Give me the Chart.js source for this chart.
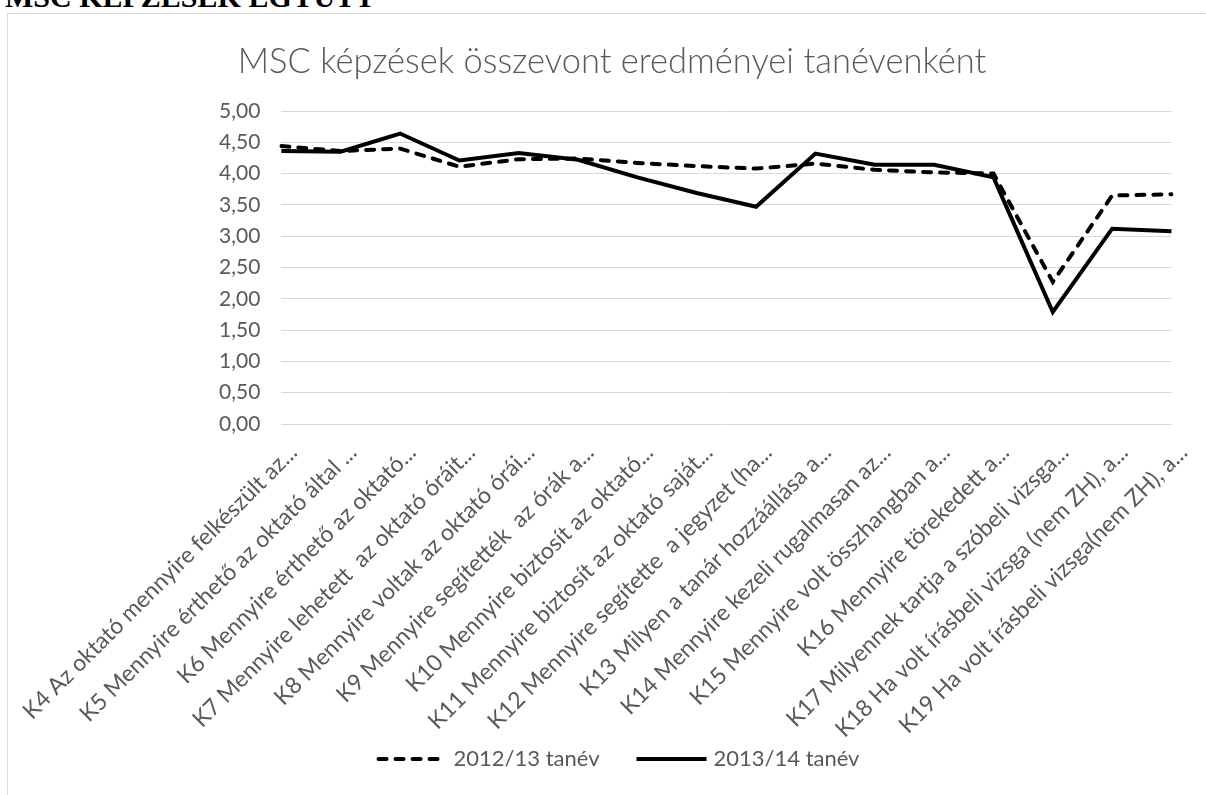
<!DOCTYPE html>
<html>
<head>
<meta charset="utf-8">
<script src="https://cdn.jsdelivr.net/npm/chart.js@4.4.1/dist/chart.umd.min.js"></script>
<style>
  html, body { margin: 0; padding: 0; background: #fff; overflow: hidden; }
  #wrap { position: relative; width: 1206px; height: 795px; overflow: hidden; }
  #header { position: absolute; left: 5px; top: -18px; font: bold 30px/30px "Liberation Serif", "Times New Roman", serif; color: #000; white-space: nowrap; }
  #frame { position: absolute; left: 7px; top: 13px; width: 1260px; height: 900px; border: 1px solid #d9d9d9; }
  canvas { position: absolute; left: 0; top: 0; }
</style>
</head>
<body>
<div id="wrap">
  <div id="header">MSC KÉPZÉSEK EGYÜTT</div>
  <div id="frame"></div>
  <canvas id="c" width="1206" height="795"></canvas>
</div>
<script>
const chartTitle = "MSC képzések összevont eredményei tanévenként";
const categories = [
  "K4 Az oktató mennyire felkészült az...",
  "K5 Mennyire érthető az oktató által ...",
  "K6 Mennyire érthető az oktató...",
  "K7 Mennyire lehetett  az oktató óráit...",
  "K8 Mennyire voltak az oktató órái...",
  "K9 Mennyire segítették  az órák a...",
  "K10 Mennyire biztosít az oktató...",
  "K11 Mennyire biztosít az oktató saját...",
  "K12 Mennyire segítette  a jegyzet (ha...",
  "K13 Milyen a tanár hozzáállása a...",
  "K14 Mennyire kezeli rugalmasan az...",
  "K15 Mennyire volt összhangban a...",
  "K16 Mennyire törekedett a...",
  "K17 Milyennek tartja a szóbeli vizsga...",
  "K18 Ha volt írásbeli vizsga (nem ZH), a...",
  "K19 Ha volt írásbeli vizsga(nem ZH), a..."
];
const seriesNames = ["2012/13 tanév", "2013/14 tanév"];
const values2012 = [4.44, 4.36, 4.40, 4.11, 4.23, 4.24, 4.17, 4.12, 4.08, 4.16, 4.06, 4.02, 4.00, 2.27, 3.65, 3.67];
const values2013 = [4.36, 4.35, 4.64, 4.21, 4.33, 4.22, 3.94, 3.69, 3.47, 4.32, 4.14, 4.14, 3.94, 1.79, 3.12, 3.08];
const yMin = 0, yMax = 5, yStep = 0.5;

const FONT = "Lato, 'Open Sans', sans-serif";
const GREY = "#595959";
const DASH = [8, 9];

const titlePlugin = {
  id: 'excelTitle',
  afterDraw(chart) {
    const ctx = chart.ctx;
    ctx.save();
    ctx.fillStyle = GREY;
    let size = 34;
    ctx.font = "300 " + size + "px " + FONT;
    const w = ctx.measureText(chartTitle).width;
    size = size * 748 / w;
    ctx.font = "300 " + size.toFixed(1) + "px " + FONT;
    ctx.textAlign = "center";
    ctx.textBaseline = "alphabetic";
    ctx.fillText(chartTitle, 612, 73);
    ctx.restore();
  }
};

const legendPlugin = {
  id: 'excelLegend',
  afterDraw(chart) {
    const ctx = chart.ctx;
    const ds = chart.data.datasets;
    ctx.save();
    ctx.font = "22px " + FONT;
    const lineW = 70, gapText = 7, gapItem = 37;
    const widths = ds.map(d => lineW + gapText + ctx.measureText(d.label).width);
    const total = widths.reduce((a, b) => a + b, 0) + gapItem * (ds.length - 1);
    let x = 618 - total / 2;
    const y = 759;
    ds.forEach((d, i) => {
      ctx.beginPath();
      ctx.lineWidth = d.borderWidth;
      ctx.strokeStyle = d.borderColor;
      ctx.lineCap = d.borderDash ? 'round' : 'butt';
      ctx.setLineDash(d.borderDash || []);
      ctx.moveTo(x + (d.borderDash ? 2 : 0), y);
      ctx.lineTo(x + lineW, y);
      ctx.stroke();
      ctx.setLineDash([]);
      ctx.fillStyle = GREY;
      ctx.textAlign = 'left';
      ctx.textBaseline = 'middle';
      ctx.fillText(d.label, x + lineW + gapText, y);
      x += widths[i] + gapItem;
    });
    ctx.restore();
  }
};

new Chart(document.getElementById('c'), {
  type: 'line',
  data: {
    labels: categories,
    datasets: [
      { label: seriesNames[0], data: values2012, borderColor: '#000', backgroundColor: '#000',
        borderWidth: 4, borderDash: DASH, borderCapStyle: 'round', pointRadius: 0, tension: 0, fill: false },
      { label: seriesNames[1], data: values2013, borderColor: '#000', backgroundColor: '#000',
        borderWidth: 4, borderCapStyle: 'butt', pointRadius: 0, tension: 0, fill: false }
    ]
  },
  options: {
    responsive: false,
    animation: false,
    devicePixelRatio: 1,
    layout: { padding: { top: 111, left: 7, right: 16, bottom: 21 } },
    plugins: {
      title: { display: false },
      tooltip: { enabled: false },
      legend: { display: false }
    },
    scales: {
      x: {
        grid: { display: false, drawTicks: false },
        border: { display: false },
        ticks: { autoSkip: false, maxRotation: 45, minRotation: 45, color: GREY,
                 font: { family: FONT, size: 23 }, padding: 15, labelOffset: 12 },
        afterFit(scale) { scale.height = 350; }
      },
      y: {
        min: yMin, max: yMax,
        grid: { color: '#d9d9d9', lineWidth: 1, drawTicks: false },
        border: { display: false },
        ticks: { stepSize: yStep, color: GREY, font: { family: FONT, size: 21 }, padding: 21,
                 callback: v => v.toFixed(2).replace('.', ',') },
        afterFit(scale) { scale.width = 240; }
      }
    }
  },
  plugins: [titlePlugin, legendPlugin]
});
</script>
</body>
</html>
